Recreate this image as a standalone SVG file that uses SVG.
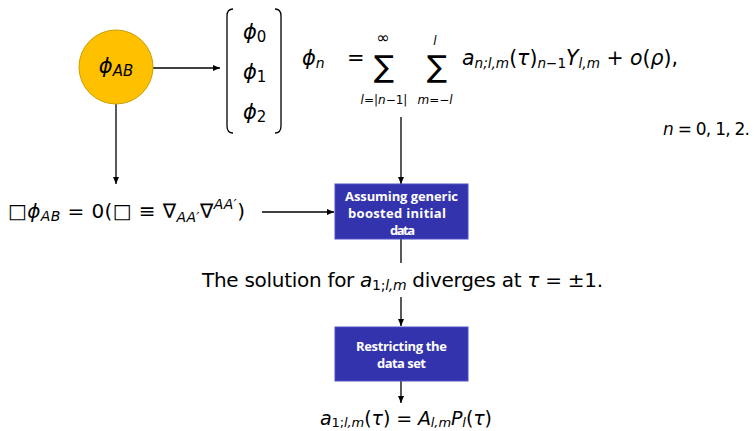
<svg xmlns="http://www.w3.org/2000/svg" width="754" height="431" viewBox="0 0 754 431">
<defs>
<marker id="ah" markerWidth="8" markerHeight="8" refX="7" refY="4" orient="auto" markerUnits="userSpaceOnUse">
<path d="M0,1 L7,4 L0,7 z" fill="#000"/>
</marker>
<style>
.m{font-family:"DejaVu Sans","Liberation Sans",sans-serif;fill:#000}
.i{font-style:italic}
.bx{fill:#3333ae;stroke:#5050c8;stroke-width:1}
.bt{font-family:"Open Sans","Liberation Sans",sans-serif;font-weight:bold;font-size:13px;fill:#fff;text-anchor:middle}
.ln{stroke:#000;stroke-width:1.3;fill:none}
</style>
</defs>
<rect width="754" height="431" fill="#fff"/>
<g id="connectors">
<line class="ln" x1="153" y1="68" x2="220" y2="68" marker-end="url(#ah)"/>
<line class="ln" x1="116" y1="104" x2="116" y2="184" marker-end="url(#ah)"/>
<line class="ln" x1="401" y1="117" x2="401" y2="184" marker-end="url(#ah)"/>
<line class="ln" x1="262" y1="212" x2="334" y2="212" marker-end="url(#ah)"/>
<line class="ln" x1="401" y1="239" x2="401" y2="263"/>
<line class="ln" x1="401" y1="297" x2="401" y2="326" marker-end="url(#ah)"/>
<line class="ln" x1="401" y1="381" x2="401" y2="403" marker-end="url(#ah)"/>
</g>
<g id="phiAB">
<circle cx="116" cy="67" r="37" fill="#ffc000" stroke="#c9a000" stroke-width="1"/>
<text class="m i" x="116" y="73" font-size="21" text-anchor="middle">ϕ<tspan font-size="15" dy="3">AB</tspan></text>
</g>
<g id="vector">
<path class="ln" stroke-width="1.6" d="M233,9 Q227,9 227,16 L227,126 Q227,133 233,133"/>
<path class="ln" stroke-width="1.6" d="M275,9 Q281,9 281,16 L281,126 Q281,133 275,133"/>
<text class="m" x="243" y="39" font-size="21"><tspan class="i">ϕ</tspan><tspan font-size="15" dy="3">0</tspan></text>
<text class="m" x="243" y="79" font-size="21"><tspan class="i">ϕ</tspan><tspan font-size="15" dy="3">1</tspan></text>
<text class="m" x="243" y="119" font-size="21"><tspan class="i">ϕ</tspan><tspan font-size="15" dy="3">2</tspan></text>
</g>
<g id="expansion">
<text class="m" x="302" y="65" font-size="21"><tspan class="i">ϕ</tspan><tspan class="i" font-size="14" dy="3">n</tspan></text>
<text class="m" x="347" y="65" font-size="21">=</text>
<text class="m" x="374" y="77" font-size="30">∑</text>
<text class="m" x="383" y="43" font-size="16" text-anchor="middle">∞</text>
<text class="m" x="384" y="104" font-size="12" text-anchor="middle"><tspan class="i">l</tspan>=|<tspan class="i">n</tspan>−1|</text>
<text class="m" x="427" y="77" font-size="30">∑</text>
<text class="m i" x="435" y="45" font-size="12" text-anchor="middle">l</text>
<text class="m" x="435" y="104" font-size="12" text-anchor="middle"><tspan class="i">m</tspan>=−<tspan class="i">l</tspan></text>
<text class="m" x="462" y="65" font-size="21" textLength="216" lengthAdjust="spacingAndGlyphs"><tspan class="i">a</tspan><tspan class="i" font-size="14" dy="3">n;l,m</tspan><tspan dy="-3">(</tspan><tspan class="i">τ</tspan>)<tspan font-size="14" dy="3"><tspan class="i">n</tspan>−1</tspan><tspan class="i" dy="-3">Y</tspan><tspan class="i" font-size="14" dy="3">l,m</tspan><tspan dy="-3"> + </tspan><tspan class="i">o</tspan>(<tspan class="i">ρ</tspan>),</text>
<text class="m" x="663" y="135" font-size="17" textLength="87"><tspan class="i">n</tspan> = 0, 1, 2.</text>
</g>
<g id="waveeq">
<text class="m" x="8" y="218" font-size="20" textLength="237"><tspan>□</tspan><tspan class="i">ϕ</tspan><tspan class="i" font-size="14" dy="3">AB</tspan><tspan dy="-3"> = 0(□ ≡ ∇</tspan><tspan class="i" font-size="14" dy="4">AA′</tspan><tspan dy="-4">∇</tspan><tspan class="i" font-size="14" dy="-9">AA′</tspan><tspan dy="9">)</tspan></text>
</g>
<g id="box1">
<rect class="bx" x="335" y="184" width="133" height="55"/>
<text class="bt" x="401.5" y="200.5" textLength="113">Assuming generic</text>
<text class="bt" x="397" y="217.5" textLength="98">boosted initial</text>
<text class="bt" x="402.5" y="234.5" textLength="25">data</text>
</g>
<g id="divergence">
<text class="m" x="202" y="287" font-size="20" textLength="401">The solution for <tspan class="i">a</tspan><tspan font-size="14" dy="3">1;<tspan class="i">l,m</tspan></tspan><tspan dy="-3"> diverges at </tspan><tspan class="i">τ</tspan> = ±1.</text>
</g>
<g id="box2">
<rect class="bx" x="335" y="327" width="133" height="54"/>
<text class="bt" x="401.5" y="350.5" textLength="91">Restricting the</text>
<text class="bt" x="401.5" y="367.5" textLength="49">data set</text>
</g>
<g id="result">
<text class="m" x="320" y="425" font-size="19" textLength="172"><tspan class="i">a</tspan><tspan font-size="13" dy="2">1;<tspan class="i">l,m</tspan></tspan><tspan dy="-2">(</tspan><tspan class="i">τ</tspan>) = <tspan class="i">A</tspan><tspan class="i" font-size="13" dy="2">l,m</tspan><tspan class="i" dy="-2">P</tspan><tspan class="i" font-size="13" dy="2">l</tspan><tspan dy="-2">(</tspan><tspan class="i">τ</tspan>)</text>
</g>
</svg>
